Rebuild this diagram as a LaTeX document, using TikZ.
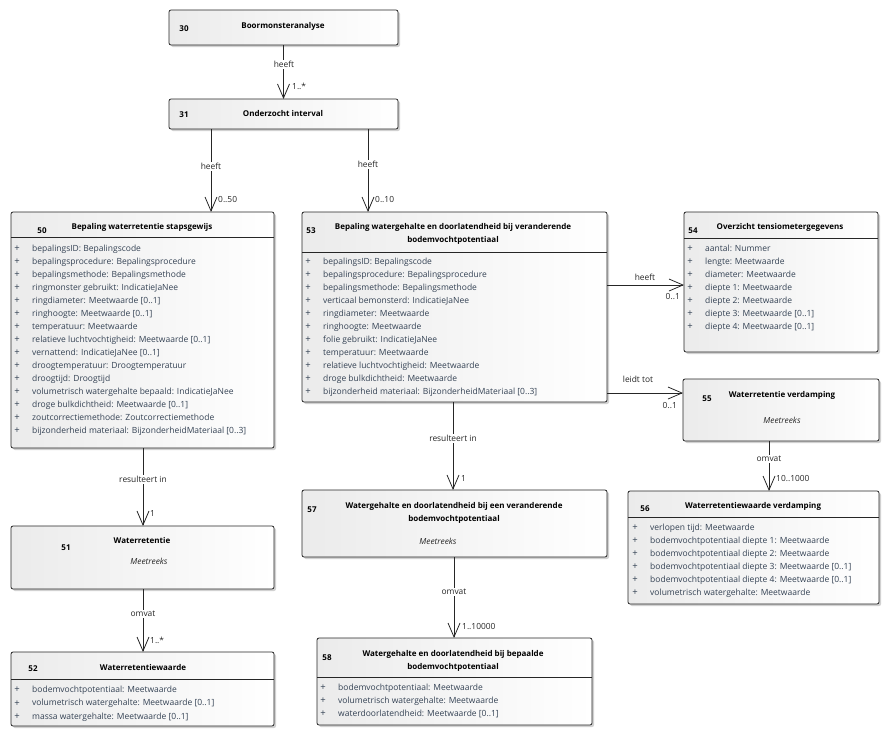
\documentclass[tikz,border=0pt]{standalone}
\usepackage{fontspec}
\setmainfont{Open Sans}
\usetikzlibrary{arrows.meta,shadows}
\definecolor{attrc}{HTML}{344254}
\definecolor{boxl}{HTML}{EBEBEB}
\definecolor{edgec}{HTML}{262626}
\begin{document}
\begin{tikzpicture}[x=1pt,y=-1pt,
  umlbox/.style={draw=edgec, line width=0.8pt, rounded corners=2pt, left color=boxl, right color=white,
    inner sep=0pt, outer sep=0pt, anchor=north west,
    drop shadow={shadow xshift=2pt, shadow yshift=-2pt, fill=black!18, opacity=1}},
  sep/.style={draw=edgec, line width=0.8pt},
  title/.style={font=\bfseries\fontsize{8}{10}\selectfont, anchor=mid, inner sep=0pt, text=black},
  num/.style={font=\bfseries\fontsize{8}{10}\selectfont, anchor=mid, inner sep=0pt, text=black},
  stereo/.style={font=\itshape\fontsize{8.3}{10}\selectfont, anchor=mid, inner sep=0pt, text=black!85},
  attr/.style={font=\fontsize{8.5}{10}\selectfont, anchor=mid west, inner sep=0pt, text=attrc},
  plus/.style={font=\fontsize{9.5}{10}\selectfont, anchor=center, inner sep=0pt, text=attrc},
  lbl/.style={font=\fontsize{8.4}{10}\selectfont, anchor=mid, fill=white, inner sep=1.2pt, text=black!85},
  mult/.style={font=\fontsize{8.4}{10}\selectfont, anchor=mid west, inner sep=0pt, text=black!85},
  assoc/.style={draw=edgec, line width=0.8pt, -{Straight Barb[length=14pt, width=12pt, line width=0.8pt]}}
]
\useasboundingbox (0,0) rectangle (890,737);

% ---------- boxes ----------
\node[umlbox, minimum width=229pt, minimum height=35pt] (b30) at (169,10) {};
\node[umlbox, minimum width=229pt, minimum height=30pt] (b31) at (169,99) {};
\node[umlbox, minimum width=263pt, minimum height=236pt] (b50) at (11,212) {};
\node[umlbox, minimum width=305pt, minimum height=190pt] (b53) at (302,212) {};
\node[umlbox, minimum width=194pt, minimum height=140pt] (b54) at (684,212) {};
\node[umlbox, minimum width=196pt, minimum height=62pt] (b55) at (683,379) {};
\node[umlbox, minimum width=251pt, minimum height=113pt] (b56) at (628,491) {};
\node[umlbox, minimum width=305pt, minimum height=67pt] (b57) at (302,490) {};
\node[umlbox, minimum width=275pt, minimum height=87pt] (b58) at (317,638) {};
\node[umlbox, minimum width=263pt, minimum height=63pt] (b51) at (11,526) {};
\node[umlbox, minimum width=263pt, minimum height=74pt] (b52) at (11,652) {};

% header separators
\draw[sep] (b50.west |- 0,237) -- (b50.east |- 0,237);
\draw[sep] (b53.west |- 0,252) -- (b53.east |- 0,252);
\draw[sep] (b54.west |- 0,238) -- (b54.east |- 0,238);
\draw[sep] (b56.west |- 0,517) -- (b56.east |- 0,517);
\draw[sep] (b58.west |- 0,677) -- (b58.east |- 0,677);
\draw[sep] (b52.west |- 0,679) -- (b52.east |- 0,679);

% ---------- headers ----------
\node[num] (n30) at (184,29) {30};
\node[title] (t30) at (283,26) {Boormonsteranalyse};
\node[num] (n31) at (184,114.5) {31};
\node[title] (t31) at (283,114) {Onderzocht interval};
\node[num] (n50) at (42,231) {50};
\node[title] (t50) at (142,227) {Bepaling waterretentie stapsgewijs};
\node[num] (n53) at (311,231) {53};
\node[title] (t53a) at (453,227) {Bepaling watergehalte en doorlatendheid bij veranderende};
\node[title] (t53b) at (453,239.5) {bodemvochtpotentiaal};
\node[num] (n54) at (693,231) {54};
\node[title] (t54) at (780,227) {Overzicht tensiometergegevens};
\node[num] (n55) at (707,399) {55};
\node[title] (t55) at (782,395) {Waterretentie verdamping};
\node[stereo] (s55) at (782,421) {Meetreeks};
\node[num] (n56) at (645,509) {56};
\node[title] (t56) at (753,506) {Waterretentiewaarde verdamping};
\node[num] (n57) at (312,510) {57};
\node[title] (t57a) at (454,506) {Watergehalte en doorlatendheid bij een veranderende};
\node[title] (t57b) at (454,518.5) {bodemvochtpotentiaal};
\node[stereo] (s57) at (438,542) {Meetreeks};
\node[num] (n58) at (327,658) {58};
\node[title] (t58a) at (453,654) {Watergehalte en doorlatendheid bij bepaalde};
\node[title] (t58b) at (453,667) {bodemvochtpotentiaal};
\node[num] (n51) at (66,548) {51};
\node[title] (t51) at (142,541) {Waterretentie};
\node[stereo] (s51) at (149,562) {Meetreeks};
\node[num] (n52) at (33,669) {52};
\node[title] (t52) at (143,668) {Waterretentiewaarde};

% ---------- attributes ----------
\foreach \t [count=\i from 0] in {
  bepalingsID: Bepalingscode,
  bepalingsprocedure: Bepalingsprocedure,
  bepalingsmethode: Bepalingsmethode,
  ringmonster gebruikt: IndicatieJaNee,
  ringdiameter: Meetwaarde [0..1],
  ringhoogte: Meetwaarde [0..1],
  temperatuur: Meetwaarde,
  relatieve luchtvochtigheid: Meetwaarde [0..1],
  vernattend: IndicatieJaNee [0..1],
  droogtemperatuur: Droogtemperatuur,
  droogtijd: Droogtijd,
  volumetrisch watergehalte bepaald: IndicatieJaNee,
  droge bulkdichtheid: Meetwaarde [0..1],
  zoutcorrectiemethode: Zoutcorrectiemethode,
  bijzonderheid materiaal: BijzonderheidMateriaal [0..3]}
{\node[plus] (p50-\i) at (17,249+13*\i) {+};
 \node[attr] (a50-\i) at (32,249+13*\i) {\t};}

\foreach \t [count=\i from 0] in {
  bepalingsID: Bepalingscode,
  bepalingsprocedure: Bepalingsprocedure,
  bepalingsmethode: Bepalingsmethode,
  verticaal bemonsterd: IndicatieJaNee,
  ringdiameter: Meetwaarde,
  ringhoogte: Meetwaarde,
  folie gebruikt: IndicatieJaNee,
  temperatuur: Meetwaarde,
  relatieve luchtvochtigheid: Meetwaarde,
  droge bulkdichtheid: Meetwaarde,
  bijzonderheid materiaal: BijzonderheidMateriaal [0..3]}
{\node[plus] (p53-\i) at (308,262+13*\i) {+};
 \node[attr] (a53-\i) at (323,262+13*\i) {\t};}

\foreach \t [count=\i from 0] in {
  aantal: Nummer,
  lengte: Meetwaarde,
  diameter: Meetwaarde,
  diepte 1: Meetwaarde,
  diepte 2: Meetwaarde,
  diepte 3: Meetwaarde [0..1],
  diepte 4: Meetwaarde [0..1]}
{\node[plus] (p54-\i) at (690,249+13*\i) {+};
 \node[attr] (a54-\i) at (705,249+13*\i) {\t};}

\foreach \t [count=\i from 0] in {
  verlopen tijd: Meetwaarde,
  bodemvochtpotentiaal diepte 1: Meetwaarde,
  bodemvochtpotentiaal diepte 2: Meetwaarde,
  bodemvochtpotentiaal diepte 3: Meetwaarde [0..1],
  bodemvochtpotentiaal diepte 4: Meetwaarde [0..1],
  volumetrisch watergehalte: Meetwaarde}
{\node[plus] (p56-\i) at (635,528+13*\i) {+};
 \node[attr] (a56-\i) at (650,528+13*\i) {\t};}

\foreach \t [count=\i from 0] in {
  bodemvochtpotentiaal: Meetwaarde,
  volumetrisch watergehalte: Meetwaarde,
  waterdoorlatendheid: Meetwaarde [0..1]}
{\node[plus] (p58-\i) at (323,688+13*\i) {+};
 \node[attr] (a58-\i) at (338,688+13*\i) {\t};}

\foreach \t [count=\i from 0] in {
  bodemvochtpotentiaal: Meetwaarde,
  volumetrisch watergehalte: Meetwaarde [0..1],
  massa watergehalte: Meetwaarde [0..1]}
{\node[plus] (p52-\i) at (17,690+13.3*\i) {+};
 \node[attr] (a52-\i) at (32,690+13.3*\i) {\t};}

% ---------- connectors ----------
\draw[assoc] (b30) -- (b31);
\node[lbl] (l3031) at (284,65) {heeft};
\node[mult] (m3031) at (292,87) {1..*};

\draw[assoc] (b31.south -| 211,0) -- (b50.north -| 211,0);
\node[lbl] (l3150) at (211,167) {heeft};
\node[mult] (m3150) at (218,200) {0..50};

\draw[assoc] (b31.south -| 368,0) -- (b53.north -| 368,0);
\node[lbl] (l3153) at (368,165) {heeft};
\node[mult] (m3153) at (375,200) {0..10};

\draw[assoc] (b53.east |- 0,285) -- (b54.west |- 0,285);
\node[mult, anchor=mid] (l5354) at (645,278) {heeft};
\node[mult, anchor=mid east] (m5354) at (680,297) {0..1};

\draw[assoc] (b53.east |- 0,393) -- (b55.west |- 0,393);
\node[mult, anchor=mid] (l5355) at (638,380) {leidt tot};
\node[mult, anchor=mid east] (m5355) at (677,406) {0..1};

\draw[assoc] (b55.south -| 769,0) -- (b56.north -| 769,0);
\node[lbl] (l5556) at (769,459) {omvat};
\node[mult] (m5556) at (776,479) {10..1000};

\draw[assoc] (b53.south -| 453,0) -- (b57.north -| 453,0);
\node[lbl] (l5357) at (453,439) {resulteert in};
\node[mult] (m5357) at (461,479) {1};

\draw[assoc] (b57.south -| 454,0) -- (b58.north -| 454,0);
\node[lbl] (l5758) at (454,592) {omvat};
\node[mult] (m5758) at (462,627) {1..10000};

\draw[assoc] (b50.south -| 143,0) -- (b51.north -| 143,0);
\node[lbl] (l5051) at (143,480) {resulteert in};
\node[mult] (m5051) at (150,514) {1};

\draw[assoc] (b51.south -| 143,0) -- (b52.north -| 143,0);
\node[lbl] (l5152) at (143,614) {omvat};
\node[mult] (m5152) at (150,641) {1..*};
\end{tikzpicture}
\end{document}
